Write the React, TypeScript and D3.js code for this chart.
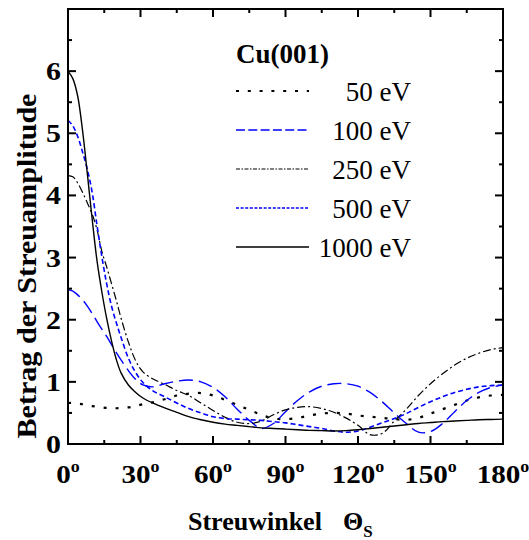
import React from "react";
import * as d3 from "d3";

const angles = [0, 2, 4, 6, 8, 10, 12, 14, 16, 18, 20, 22, 25, 28, 31, 35, 40, 45, 50, 55, 60, 65, 70, 75, 80, 85, 90, 95, 100, 105, 110, 115, 120, 125, 130, 135, 140, 145, 150, 155, 160, 165, 170, 175, 180];

const ev50 = [0.66, 0.66, 0.65, 0.64, 0.62, 0.61, 0.6, 0.59, 0.58, 0.575, 0.575, 0.58, 0.59, 0.61, 0.64, 0.67, 0.72, 0.78, 0.81, 0.82, 0.78, 0.71, 0.63, 0.55, 0.47, 0.41, 0.4, 0.42, 0.46, 0.49, 0.5, 0.49, 0.46, 0.44, 0.42, 0.4, 0.39, 0.42, 0.49, 0.56, 0.63, 0.7, 0.75, 0.78, 0.79];
const ev100 = [2.48, 2.46, 2.4, 2.32, 2.22, 2.1, 1.97, 1.85, 1.73, 1.6, 1.47, 1.35, 1.18, 1.04, 0.95, 0.92, 0.97, 1.01, 1.03, 1.0, 0.91, 0.76, 0.56, 0.38, 0.25, 0.33, 0.52, 0.7, 0.84, 0.93, 0.97, 0.97, 0.93, 0.83, 0.68, 0.5, 0.33, 0.19, 0.2, 0.33, 0.52, 0.7, 0.83, 0.91, 0.95];
const ev250 = [4.32, 4.3, 4.2, 4.05, 3.88, 3.7, 3.45, 3.1, 2.85, 2.58, 2.31, 2.02, 1.64, 1.34, 1.16, 1.05, 0.96, 0.86, 0.78, 0.66, 0.54, 0.43, 0.35, 0.33, 0.37, 0.47, 0.55, 0.59, 0.6, 0.57, 0.51, 0.42, 0.3, 0.15, 0.17, 0.37, 0.56, 0.78, 0.97, 1.13, 1.27, 1.38, 1.46, 1.52, 1.55];
const ev500 = [5.21, 5.12, 4.95, 4.7, 4.42, 4.05, 3.52, 3.02, 2.58, 2.22, 1.95, 1.71, 1.38, 1.15, 0.99, 0.86, 0.76, 0.66, 0.57, 0.5, 0.44, 0.41, 0.4, 0.39, 0.38, 0.36, 0.34, 0.31, 0.28, 0.25, 0.21, 0.19, 0.21, 0.27, 0.34, 0.41, 0.49, 0.59, 0.68, 0.76, 0.83, 0.88, 0.92, 0.94, 0.95];
const ev1000 = [6.0, 5.88, 5.6, 5.05, 4.35, 3.62, 2.95, 2.45, 2.02, 1.66, 1.36, 1.14, 0.95, 0.83, 0.74, 0.66, 0.58, 0.51, 0.44, 0.39, 0.35, 0.32, 0.3, 0.28, 0.26, 0.25, 0.24, 0.23, 0.22, 0.215, 0.21, 0.215, 0.23, 0.25, 0.27, 0.29, 0.31, 0.33, 0.345, 0.36, 0.37, 0.38, 0.39, 0.395, 0.4];

const seriesLabels = ["50 eV", "100 eV", "250 eV", "500 eV", "1000 eV"];
const xTicks = [0, 30, 60, 90, 120, 150, 180];
const yTicks = [0, 1, 2, 3, 4, 5, 6];
const legendTitle = "Cu(001)";
const xTitle = "Streuwinkel";
const yTitle = "Betrag der Streuamplitude";

const FONT = "Liberation Serif, Times New Roman, Times, serif";

export default function App() {
  const L = 68, R = 503, T = 9, B = 444;
  const x = d3.scaleLinear().domain([0, 180]).range([L, R]);
  const y = d3.scaleLinear().domain([0, 7]).range([B, T]);
  const line = d3
    .line<number>()
    .x((_, i) => x(angles[i]))
    .y((d) => y(d))
    .curve(d3.curveCatmullRom.alpha(0.5));

  const styles = [
    { data: ev50, color: "#000", width: 2.2, dash: "3 9", ldash: "3 8.8", lw: 2.2 },
    { data: ev100, color: "#0000ff", width: 1.4, dash: "14 6", ldash: "9 3.3", lw: 1.4 },
    { data: ev250, color: "#000", width: 1.2, dash: "8 3 2 3", ldash: "4 1.5 1.5 1.5", lw: 1.2 },
    { data: ev500, color: "#0000ff", width: 1.6, dash: "5 3", ldash: "3 1.6", lw: 1.6 },
    { data: ev1000, color: "#000", width: 1.4, dash: "none", ldash: "none", lw: 1.6 },
  ];

  const xMinor = d3.range(0, 181, 15);
  const yMinor = d3.range(0, 7.01, 0.5);
  const legendY = [91, 130, 169, 208, 247];
  const tf = { fontFamily: FONT };

  return (
    <svg width={529} height={540} style={{ position: "absolute", left: 0, top: 0, fontFamily: FONT }}>
      <rect width={529} height={540} fill="#fff" />
      <defs>
        <clipPath id="plot">
          <rect x={L} y={T} width={R - L} height={B - T} />
        </clipPath>
      </defs>
      <g clipPath="url(#plot)">
        {styles.map((s, i) => (
          <path
            key={i}
            d={line(s.data) || ""}
            fill="none"
            stroke={s.color}
            strokeWidth={s.width}
            strokeDasharray={s.dash}
          />
        ))}
      </g>
      {xMinor.map((v) => {
        const len = v % 30 === 0 ? 8 : 4;
        return (
          <g key={"xt" + v}>
            <line x1={x(v)} x2={x(v)} y1={B} y2={B - len} stroke="#000" strokeWidth={2} />
            <line x1={x(v)} x2={x(v)} y1={T} y2={T + len} stroke="#000" strokeWidth={2} />
          </g>
        );
      })}
      {yMinor.map((v) => {
        const len = Math.abs(v - Math.round(v)) < 1e-6 ? 8 : 4;
        return (
          <g key={"yt" + v}>
            <line x1={L} x2={L + len} y1={y(v)} y2={y(v)} stroke="#000" strokeWidth={2} />
            <line x1={R} x2={R - len} y1={y(v)} y2={y(v)} stroke="#000" strokeWidth={2} />
          </g>
        );
      })}
      <rect x={L} y={T} width={R - L} height={B - T} fill="none" stroke="#000" strokeWidth={2} />
      {xTicks.map((v) => (
        <text
          key={"xl" + v}
          transform={`translate(${x(v)},483) scale(1.12,1)`}
          textAnchor="middle"
          fontSize={26}
          fontWeight="bold"
          style={tf}
        >
          {v}
          <tspan fontSize={16} dy={-11}>o</tspan>
        </text>
      ))}
      {yTicks.map((v) => (
        <text
          key={"yl" + v}
          transform={`translate(61,${y(v) + 9}) scale(1.15,1)`}
          textAnchor="end"
          fontSize={26}
          fontWeight="bold"
          style={tf}
        >
          {v}
        </text>
      ))}
      <text x={188} y={530} fontSize={26} fontWeight="bold" style={tf}>
        {xTitle}
        <tspan x={343}>Θ</tspan>
        <tspan fontSize={17} dy={7}>S</tspan>
      </text>
      <text
        transform="translate(36,266) rotate(-90)"
        textAnchor="middle"
        fontSize={27}
        fontWeight="bold"
        textLength={345}
        lengthAdjust="spacingAndGlyphs"
        style={tf}
      >
        {yTitle}
      </text>
      <text x={236} y={63} fontSize={27} fontWeight="bold" style={tf}>
        {legendTitle}
      </text>
      {styles.map((s, i) => (
        <g key={"lg" + i}>
          <line
            x1={236}
            x2={309}
            y1={legendY[i]}
            y2={legendY[i]}
            stroke={s.color}
            strokeWidth={s.lw}
            strokeDasharray={s.ldash}
          />
          <text x={411} y={legendY[i] + 10} textAnchor="end" fontSize={27} style={tf}>
            {seriesLabels[i]}
          </text>
        </g>
      ))}
    </svg>
  );
}
